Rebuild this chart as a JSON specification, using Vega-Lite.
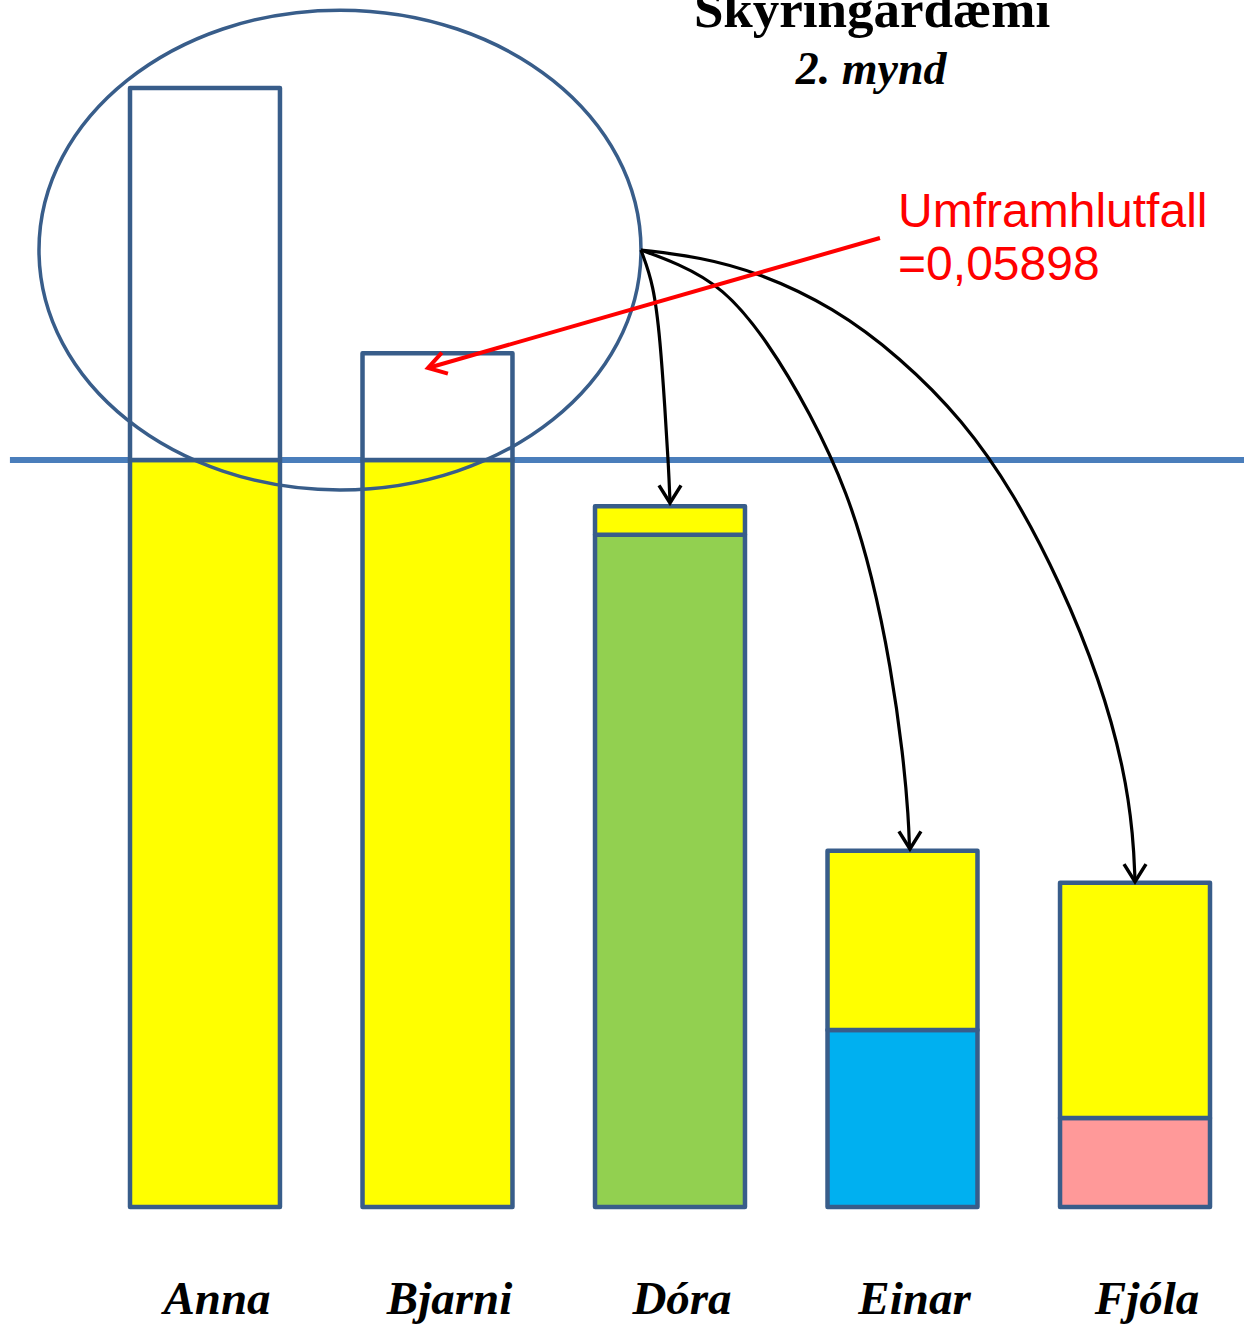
{
  "$schema": "https://vega.github.io/schema/vega-lite/v6.json",
  "width": 1244,
  "height": 1324,
  "autosize": {"type": "none"},
  "padding": 0,
  "background": "white",
  "config": {"view": {"stroke": null}},
  "datasets": {
    "bars": [
      {"name": "Anna", "part": "kvóti", "lo": 0, "hi": 100},
      {"name": "Anna", "part": "umfram", "lo": 100, "hi": 149.8},
      {"name": "Bjarni", "part": "kvóti", "lo": 0, "hi": 100},
      {"name": "Bjarni", "part": "umfram", "lo": 100, "hi": 114.3},
      {"name": "Dóra", "part": "Dóra", "lo": 0, "hi": 90.0},
      {"name": "Dóra", "part": "kvóti", "lo": 90.0, "hi": 93.8},
      {"name": "Einar", "part": "Einar", "lo": 0, "hi": 23.7},
      {"name": "Einar", "part": "kvóti", "lo": 23.7, "hi": 47.7},
      {"name": "Fjóla", "part": "Fjóla", "lo": 0, "hi": 11.9},
      {"name": "Fjóla", "part": "kvóti", "lo": 11.9, "hi": 43.4}
    ],
    "names": [
      {"name": "Anna"}, {"name": "Bjarni"}, {"name": "Dóra"}, {"name": "Einar"}, {"name": "Fjóla"}
    ],
    "hline": [{"u": -0.839, "u2": 4.4688, "v": 100}],
    "ellipse": [{"u": 0.5806, "v": 128.11}],
    "curves": [
      {"curve": "Dóra", "u": 1.875, "v": 128.11},
      {"curve": "Dóra", "u": 1.930, "v": 123.5},
      {"curve": "Dóra", "u": 1.958, "v": 116.0},
      {"curve": "Dóra", "u": 1.978, "v": 107.0},
      {"curve": "Dóra", "u": 1.994, "v": 99.0},
      {"curve": "Dóra", "u": 2.0, "v": 94.4},
      {"curve": "Einar", "u": 1.875, "v": 128.11},
      {"curve": "Einar", "u": 2.030, "v": 126.37},
      {"curve": "Einar", "u": 2.228, "v": 123.16},
      {"curve": "Einar", "u": 2.417, "v": 116.06},
      {"curve": "Einar", "u": 2.605, "v": 106.2},
      {"curve": "Einar", "u": 2.765, "v": 95.6},
      {"curve": "Einar", "u": 2.870, "v": 84.5},
      {"curve": "Einar", "u": 2.950, "v": 72.3},
      {"curve": "Einar", "u": 3.003, "v": 60.5},
      {"curve": "Einar", "u": 3.026, "v": 52.0},
      {"curve": "Einar", "u": 3.030, "v": 48.1},
      {"curve": "Fjóla", "u": 1.875, "v": 128.11},
      {"curve": "Fjóla", "u": 2.129, "v": 127.18},
      {"curve": "Fjóla", "u": 2.387, "v": 125.03},
      {"curve": "Fjóla", "u": 2.701, "v": 120.48},
      {"curve": "Fjóla", "u": 2.989, "v": 113.79},
      {"curve": "Fjóla", "u": 3.260, "v": 105.35},
      {"curve": "Fjóla", "u": 3.480, "v": 95.5},
      {"curve": "Fjóla", "u": 3.680, "v": 83.5},
      {"curve": "Fjóla", "u": 3.850, "v": 70.5},
      {"curve": "Fjóla", "u": 3.955, "v": 58.5},
      {"curve": "Fjóla", "u": 3.993, "v": 49.5},
      {"curve": "Fjóla", "u": 4.0, "v": 43.7}
    ],
    "tips": [
      {"target": "Dóra", "u": 2.0, "v": 94.24},
      {"target": "Einar", "u": 3.032, "v": 47.93},
      {"target": "Fjóla", "u": 4.0, "v": 43.55}
    ],
    "redline": [{"u": 2.903, "v": 129.72, "u2": 0.959, "v2": 112.32}],
    "redtip": [{"u": 0.959, "v": 112.32}],
    "title1": [{"t": "Skýringardæmi", "u": 2.869, "v": 157.96}],
    "title2": [{"t": "2. mynd", "u": 2.865, "v": 150.33}],
    "redtext": [
      {"t": "Umframhlutfall", "u": 2.981, "v": 131.19},
      {"t": "=0,05898", "u": 2.981, "v": 124.1}
    ]
  },
  "resolve": {"scale": {"x": "independent"}},
  "layer": [
    {
      "data": {"name": "hline"},
      "mark": {"type": "rule", "stroke": "#4a7ebb", "strokeWidth": 6},
      "encoding": {
        "x": {"field": "u", "type": "quantitative", "scale": {"domain": [-0.8817, 4.4688], "nice": false, "zero": false}, "axis": null},
        "x2": {"field": "u2"},
        "y": {"field": "v", "type": "quantitative", "scale": {"domain": [-15.66, 161.58], "nice": false, "zero": false}, "axis": null}
      }
    },
    {
      "data": {"name": "bars"},
      "mark": {"type": "bar", "stroke": "#385d8a", "strokeWidth": 4.5, "strokeJoin": "round"},
      "encoding": {
        "x": {"field": "name", "type": "nominal", "sort": null, "scale": {"type": "band", "range": [130, 1210], "paddingInner": 0.355, "paddingOuter": 0}, "axis": null},
        "y": {"field": "lo", "type": "quantitative", "scale": {"domain": [-15.66, 161.58], "nice": false, "zero": false}, "axis": null},
        "y2": {"field": "hi"},
        "color": {
          "field": "part", "type": "nominal",
          "scale": {"domain": ["kvóti", "umfram", "Dóra", "Einar", "Fjóla"], "range": ["#ffff00", "#ffffff", "#92d050", "#00b0f0", "#ff9999"]},
          "legend": null
        }
      }
    },
    {
      "data": {"name": "ellipse"},
      "mark": {"type": "point", "shape": "M -1 0 A 1 0.797 0 1 1 1 0 A 1 0.797 0 1 1 -1 0 Z", "size": 362404, "filled": false, "stroke": "#385d8a", "strokeWidth": 3.5, "opacity": 1},
      "encoding": {
        "x": {"field": "u", "type": "quantitative", "scale": {"domain": [-0.8817, 4.4688], "nice": false, "zero": false}, "axis": null},
        "y": {"field": "v", "type": "quantitative", "scale": {"domain": [-15.66, 161.58], "nice": false, "zero": false}, "axis": null}
      }
    },
    {
      "data": {"name": "curves"},
      "mark": {"type": "line", "interpolate": "basis", "stroke": "black", "strokeWidth": 3.2},
      "encoding": {
        "x": {"field": "u", "type": "quantitative", "scale": {"domain": [-0.8817, 4.4688], "nice": false, "zero": false}, "axis": null},
        "y": {"field": "v", "type": "quantitative", "scale": {"domain": [-15.66, 161.58], "nice": false, "zero": false}, "axis": null},
        "detail": {"field": "curve", "type": "nominal"}
      }
    },
    {
      "data": {"name": "tips"},
      "mark": {"type": "point", "shape": "M -1 -1.6 L 0 0 L 1 -1.6", "size": 484, "filled": false, "fill": null, "stroke": "black", "strokeWidth": 3.5, "opacity": 1},
      "encoding": {
        "x": {"field": "u", "type": "quantitative", "scale": {"domain": [-0.8817, 4.4688], "nice": false, "zero": false}, "axis": null},
        "y": {"field": "v", "type": "quantitative", "scale": {"domain": [-15.66, 161.58], "nice": false, "zero": false}, "axis": null}
      }
    },
    {
      "data": {"name": "redline"},
      "mark": {"type": "rule", "stroke": "#ff0000", "strokeWidth": 4},
      "encoding": {
        "x": {"field": "u", "type": "quantitative", "scale": {"domain": [-0.8817, 4.4688], "nice": false, "zero": false}, "axis": null},
        "x2": {"field": "u2"},
        "y": {"field": "v", "type": "quantitative", "scale": {"domain": [-15.66, 161.58], "nice": false, "zero": false}, "axis": null},
        "y2": {"field": "v2"}
      }
    },
    {
      "data": {"name": "redtip"},
      "mark": {"type": "point", "shape": "M -1 -1.6 L 0 0 L 1 -1.6", "size": 484, "angle": 74, "filled": false, "fill": null, "stroke": "#ff0000", "strokeWidth": 4, "opacity": 1},
      "encoding": {
        "x": {"field": "u", "type": "quantitative", "scale": {"domain": [-0.8817, 4.4688], "nice": false, "zero": false}, "axis": null},
        "y": {"field": "v", "type": "quantitative", "scale": {"domain": [-15.66, 161.58], "nice": false, "zero": false}, "axis": null}
      }
    },
    {
      "data": {"name": "title1"},
      "mark": {"type": "text", "font": "Liberation Serif", "fontWeight": "bold", "fontSize": 53, "align": "center", "baseline": "alphabetic", "color": "black"},
      "encoding": {
        "x": {"field": "u", "type": "quantitative", "scale": {"domain": [-0.8817, 4.4688], "nice": false, "zero": false}, "axis": null},
        "y": {"field": "v", "type": "quantitative", "scale": {"domain": [-15.66, 161.58], "nice": false, "zero": false}, "axis": null},
        "text": {"field": "t"}
      }
    },
    {
      "data": {"name": "title2"},
      "mark": {"type": "text", "font": "Liberation Serif", "fontWeight": "bold", "fontStyle": "italic", "fontSize": 46, "align": "center", "baseline": "alphabetic", "color": "black"},
      "encoding": {
        "x": {"field": "u", "type": "quantitative", "scale": {"domain": [-0.8817, 4.4688], "nice": false, "zero": false}, "axis": null},
        "y": {"field": "v", "type": "quantitative", "scale": {"domain": [-15.66, 161.58], "nice": false, "zero": false}, "axis": null},
        "text": {"field": "t"}
      }
    },
    {
      "data": {"name": "redtext"},
      "mark": {"type": "text", "font": "Liberation Sans", "fontSize": 48, "align": "left", "baseline": "alphabetic", "color": "#ff0000"},
      "encoding": {
        "x": {"field": "u", "type": "quantitative", "scale": {"domain": [-0.8817, 4.4688], "nice": false, "zero": false}, "axis": null},
        "y": {"field": "v", "type": "quantitative", "scale": {"domain": [-15.66, 161.58], "nice": false, "zero": false}, "axis": null},
        "text": {"field": "t"}
      }
    },
    {
      "data": {"name": "names"},
      "mark": {"type": "text", "font": "Liberation Serif", "fontWeight": "bold", "fontStyle": "italic", "fontSize": 47, "align": "center", "baseline": "alphabetic", "dx": 12, "color": "black"},
      "encoding": {
        "x": {"field": "name", "type": "nominal", "sort": null, "scale": {"type": "band", "range": [130, 1210], "paddingInner": 0.355, "paddingOuter": 0}, "axis": null},
        "y": {"datum": -14.32, "type": "quantitative", "scale": {"domain": [-15.66, 161.58], "nice": false, "zero": false}, "axis": null},
        "text": {"field": "name"}
      }
    }
  ]
}
